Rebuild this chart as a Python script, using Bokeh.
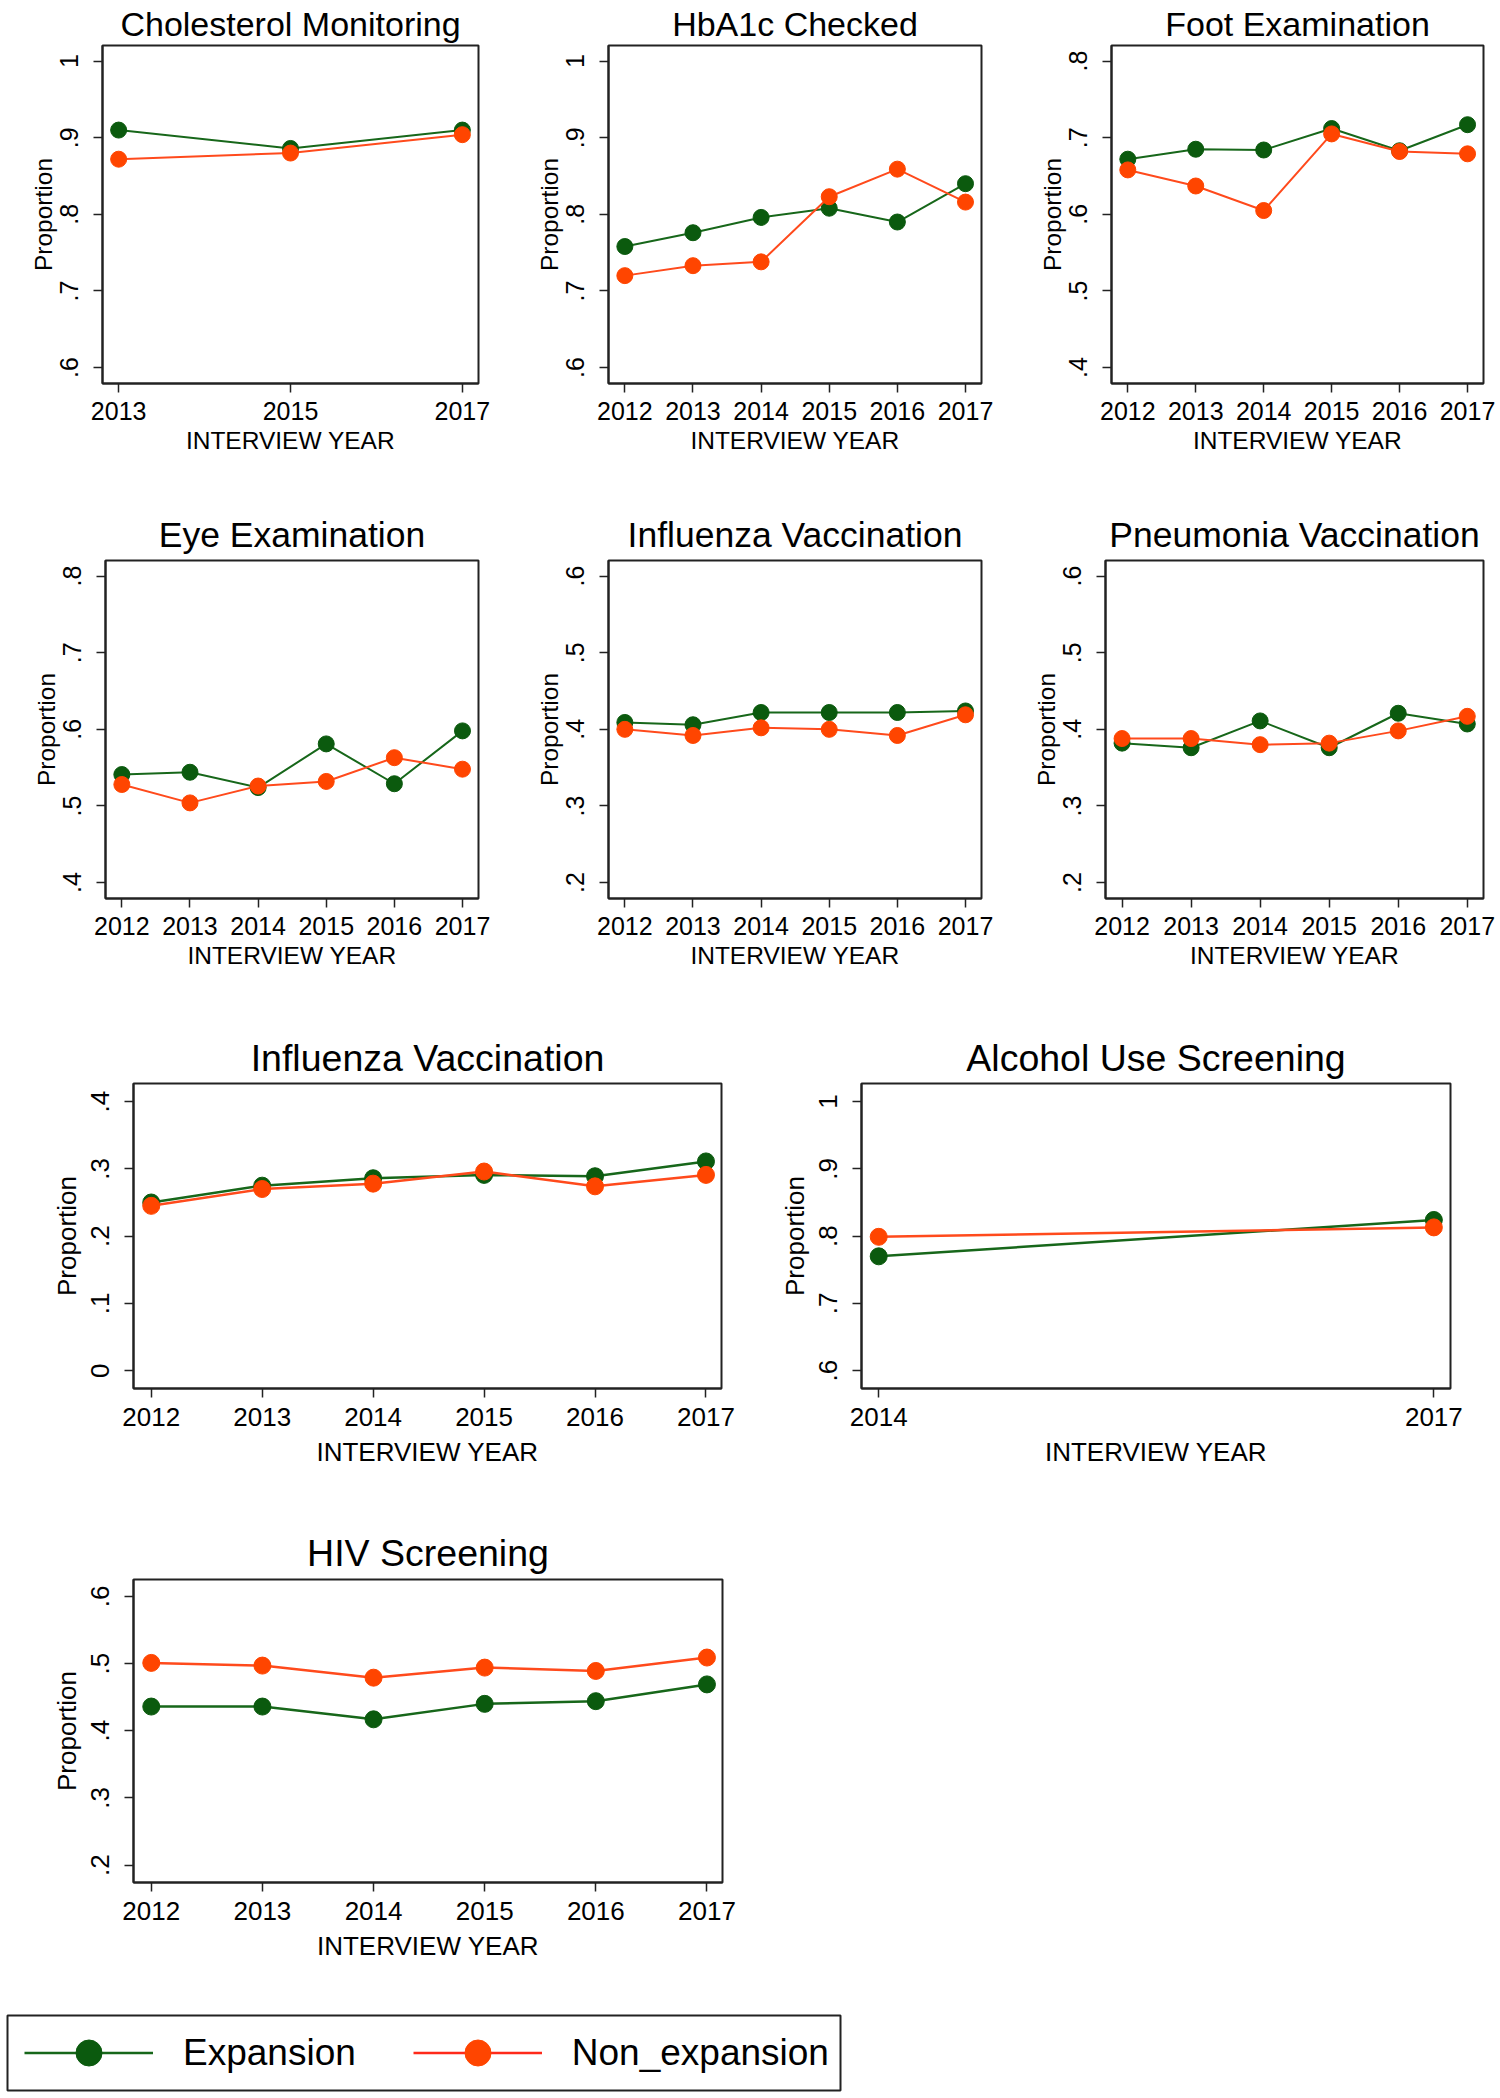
from bokeh.plotting import figure
from bokeh.models import Range1d, FixedTicker, Legend, LegendItem, ColumnDataSource
from bokeh.layouts import column, row
from bokeh.embed import file_html
from bokeh.resources import INLINE

# ---------------- data ----------------
years6 = [2012, 2013, 2014, 2015, 2016, 2017]
chol_years = [2013, 2015, 2017]
alc_years = [2014, 2017]

chol_exp = [0.910, 0.886, 0.910]
chol_non = [0.872, 0.880, 0.904]
hba1c_exp = [0.758, 0.776, 0.796, 0.808, 0.790, 0.840]
hba1c_non = [0.720, 0.733, 0.738, 0.823, 0.859, 0.816]
foot_exp = [0.672, 0.685, 0.684, 0.712, 0.683, 0.717]
foot_non = [0.658, 0.637, 0.605, 0.705, 0.682, 0.679]
eye_exp = [0.541, 0.544, 0.524, 0.581, 0.529, 0.598]
eye_non = [0.528, 0.504, 0.526, 0.532, 0.563, 0.548]
flu_exp = [0.409, 0.406, 0.422, 0.422, 0.422, 0.424]
flu_non = [0.400, 0.392, 0.402, 0.400, 0.392, 0.419]
pneu_exp = [0.382, 0.376, 0.411, 0.376, 0.421, 0.407]
pneu_non = [0.388, 0.388, 0.380, 0.382, 0.398, 0.417]
flu2_exp = [0.250, 0.275, 0.286, 0.291, 0.289, 0.311]
flu2_non = [0.245, 0.270, 0.278, 0.296, 0.274, 0.291]
alc_exp = [0.770, 0.824]
alc_non = [0.799, 0.813]
hiv_exp = [0.436, 0.436, 0.417, 0.440, 0.444, 0.469]
hiv_non = [0.501, 0.497, 0.479, 0.494, 0.489, 0.509]

ticks_6_10 = [0.6, 0.7, 0.8, 0.9, 1.0]
labels_6_10 = [".6", ".7", ".8", ".9", "1"]
ticks_4_8 = [0.4, 0.5, 0.6, 0.7, 0.8]
labels_4_8 = [".4", ".5", ".6", ".7", ".8"]
ticks_2_6 = [0.2, 0.3, 0.4, 0.5, 0.6]
labels_2_6 = [".2", ".3", ".4", ".5", ".6"]
ticks_0_4 = [0.0, 0.1, 0.2, 0.3, 0.4]
labels_0_4 = ["0", ".1", ".2", ".3", ".4"]

series_names = ["Expansion", "Non_expansion"]

# ---------------- style ----------------
FONT = "Liberation Sans"
GREEN_LINE = "#17671a"
GREEN_MARK = "#0b5a0e"
ORANGE_LINE = "#ff4a1c"
ORANGE_MARK = "#ff4500"
FRAME = "#222222"


def panel(title, xs, exp, non, xticks, yticks, ylabels, geom, xpad, ypad,
          title_stand, fs_title, fs_tick, fs_axis, lw, ms, ystand, ylab_stand, xstand, xlab_stand):
    left, fw, right, top, fh, bottom = geom
    xspan = xticks[-1] - xticks[0]
    yspan = yticks[-1] - yticks[0]
    p = figure(frame_width=fw, frame_height=fh,
               min_border_left=left, min_border_right=right,
               min_border_top=top, min_border_bottom=bottom,
               x_range=Range1d(xticks[0] - xpad[0] * xspan, xticks[-1] + xpad[1] * xspan),
               y_range=Range1d(yticks[0] - ypad[0] * yspan, yticks[-1] + ypad[1] * yspan),
               output_backend="svg", toolbar_location=None, title=title)
    p.title.align = "center"
    p.title.text_font = FONT
    p.title.text_font_size = f"{fs_title}px"
    p.title.text_font_style = "normal"
    p.title.text_color = "black"
    p.title.standoff = title_stand
    p.title.offset = 0

    p.grid.visible = False
    p.outline_line_color = FRAME
    p.outline_line_width = 2
    p.outline_line_alpha = 1
    p.background_fill_color = "white"
    p.border_fill_color = "white"

    for ax in (p.xaxis[0], p.yaxis[0]):
        ax.axis_line_color = FRAME
        ax.axis_line_width = 2
        ax.major_tick_line_color = FRAME
        ax.major_tick_line_width = 1.5
        ax.major_tick_in = 0
        ax.major_tick_out = 9
        ax.minor_tick_line_color = None
        ax.major_label_text_font = FONT
        ax.major_label_text_font_size = f"{fs_tick}px"
        ax.major_label_text_color = "black"
        ax.axis_label_text_font = FONT
        ax.axis_label_text_font_size = f"{fs_axis}px"
        ax.axis_label_text_font_style = "normal"
        ax.axis_label_text_color = "black"

    p.xaxis.ticker = FixedTicker(ticks=xticks)
    p.xaxis.axis_label = "INTERVIEW YEAR"
    p.xaxis.major_label_standoff = xstand
    p.xaxis.axis_label_standoff = xlab_stand

    p.yaxis.ticker = FixedTicker(ticks=yticks)
    p.yaxis.major_label_overrides = dict(zip(yticks, ylabels))
    p.yaxis.major_label_orientation = "vertical"
    p.yaxis.axis_label = "Proportion"
    p.yaxis.major_label_standoff = ystand
    p.yaxis.axis_label_standoff = ylab_stand

    p.line(xs, exp, line_color=GREEN_LINE, line_width=lw)
    p.scatter(xs, exp, size=ms, fill_color=GREEN_MARK, line_color=GREEN_MARK)
    p.line(xs, non, line_color=ORANGE_LINE, line_width=lw)
    p.scatter(xs, non, size=ms, fill_color=ORANGE_MARK, line_color=ORANGE_MARK)
    return p


S1 = dict(fs_title=34, fs_tick=25, fs_axis=24.5, lw=2, ms=16,
          ystand=15, ylab_stand=1, xstand=9, xlab_stand=4)
S = dict(fs_title=35.5, fs_tick=25, fs_axis=24.5, lw=2, ms=16,
         ystand=15, ylab_stand=1, xstand=9, xlab_stand=4)
S3 = dict(fs_title=37.5, fs_tick=26, fs_axis=26, lw=2.5, ms=17,
          ystand=15, ylab_stand=7, xstand=10, xlab_stand=8)
P6 = (0.048, 0.047)
PY = (0.052, 0.051)

p1 = panel("Cholesterol Monitoring", chol_years, chol_exp, chol_non, chol_years,
           ticks_6_10, labels_6_10, (102, 376, 22, 45, 338, 117), (0.047, 0.047), PY, 5, **S1)
p2 = panel("HbA1c Checked", years6, hba1c_exp, hba1c_non, years6,
           ticks_6_10, labels_6_10, (108, 373, 19, 45, 338, 117), P6, PY, 5, **S1)
p3 = panel("Foot Examination", years6, foot_exp, foot_non, years6,
           ticks_4_8, labels_4_8, (111, 372, 17, 45, 338, 117), P6, PY, 5, **S1)

p4 = panel("Eye Examination", years6, eye_exp, eye_non, years6,
           ticks_4_8, labels_4_8, (105, 373, 22, 60, 338, 122), P6, PY, 12, **S)
p5 = panel("Influenza Vaccination", years6, flu_exp, flu_non, years6,
           ticks_2_6, labels_2_6, (108, 373, 19, 60, 338, 122), P6, PY, 12, **S)
p6 = panel("Pneumonia Vaccination", years6, pneu_exp, pneu_non, years6,
           ticks_2_6, labels_2_6, (105, 378, 17, 60, 338, 122), P6, PY, 12, **S)

p7 = panel("Influenza Vaccination", years6, flu2_exp, flu2_non, years6,
           ticks_0_4, labels_0_4, (133, 588, 29, 63, 305, 112), (0.032, 0.028), (0.066, 0.067), 10, **S3)
p8 = panel("Alcohol Use Screening", alc_years, alc_exp, alc_non, alc_years,
           ticks_6_10, labels_6_10, (111, 589, 50, 63, 305, 112), (0.031, 0.030), (0.066, 0.067), 10, **S3)

p9 = panel("HIV Screening", years6, hiv_exp, hiv_non, years6,
           ticks_2_6, labels_2_6, (133, 589, 28, 79, 303, 126), (0.032, 0.028), (0.065, 0.063), 12, **S3)

# ---------------- legend ----------------
lp = figure(frame_width=833, frame_height=75, min_border_left=7, min_border_right=2,
            min_border_top=7, min_border_bottom=2, x_axis_location=None, y_axis_location=None,
            x_range=Range1d(0, 1), y_range=Range1d(0, 1),
            output_backend="svg", toolbar_location=None, title=None)
lp.grid.visible = False
lp.outline_line_color = FRAME
lp.outline_line_width = 2
nan_src = ColumnDataSource(data=dict(x=[float("nan")], y=[float("nan")]))
gl = lp.line("x", "y", source=nan_src, line_color=GREEN_LINE, line_width=2.5)
gs = lp.scatter("x", "y", source=nan_src, size=26, fill_color=GREEN_MARK, line_color=GREEN_MARK)
ol = lp.line("x", "y", source=nan_src, line_color="#ff2a1a", line_width=2.5)
os_ = lp.scatter("x", "y", source=nan_src, size=26, fill_color=ORANGE_MARK, line_color=ORANGE_MARK)
legend = Legend(items=[LegendItem(label=series_names[0], renderers=[gl, gs]),
                       LegendItem(label=series_names[1], renderers=[ol, os_])],
                orientation="horizontal", location=(17, 5), padding=0, margin=0,
                spacing=57, glyph_width=129, glyph_height=65, label_standoff=30,
                border_line_alpha=0, background_fill_alpha=0,
                label_text_font=FONT, label_text_font_size="37px", label_text_color="black")
lp.add_layout(legend)

layout = column(row(p1, p2, p3), row(p4, p5, p6), row(p7, p8), row(p9), lp)
open("out.html", "w").write(file_html(layout, INLINE))
